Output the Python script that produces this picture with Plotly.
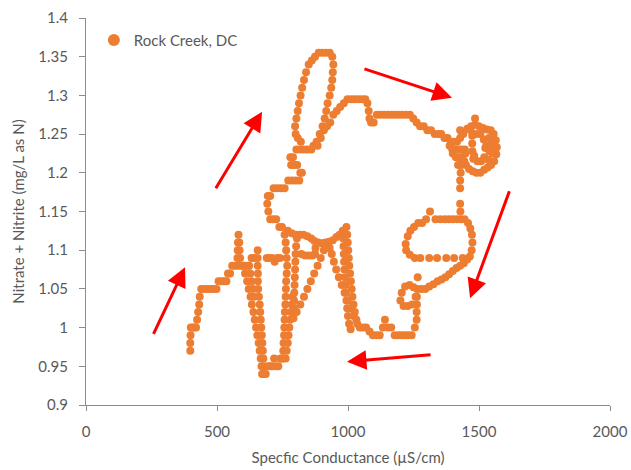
import plotly.graph_objects as go

# Rock Creek, DC storm event: nitrate + nitrite vs specific conductance (hysteresis loop)

# Rising limb: start at low conductance, spike, V trough, S-curve, left side of the tall loop
rise_cond = [398, 398, 399, 400, 406, 413, 420, 424, 428, 432, 434, 440, 452, 464, 476, 488, 498,
             506, 516, 526, 536, 542, 550, 558, 568, 578, 590, 600, 612, 622, 632, 642,
             578, 579, 580, 582, 585, 586, 588,
             603, 607, 615, 621, 628, 633, 639, 644, 649, 654, 659, 663, 667, 670, 672,
             622, 627, 632, 637, 641,
             655, 655, 655, 656, 656, 657, 660, 663, 665, 667, 669, 671, 673, 675, 677, 680,
             678, 686, 694, 702, 710, 718, 726, 734, 742, 748,
             752, 753, 754, 756, 757, 758, 759, 761, 762, 763, 764, 766, 768, 766, 764, 762, 758,
             762, 766, 770, 773, 776, 779, 782, 785, 788,
             690, 700, 710, 720, 730, 740,
             748, 738, 726, 714, 703, 696, 692, 694, 703, 716, 730, 744, 758, 772, 786, 800, 814,
             824, 818, 806, 794, 783, 780, 790, 803, 817, 831, 845, 860,
             820, 808, 800, 798, 803, 808, 813, 819, 825, 832, 840, 850, 862]
rise_no3 = [0.97, 0.98, 0.99, 1.00, 1.00, 1.00, 1.00, 1.01, 1.02, 1.03, 1.04, 1.05, 1.05, 1.05, 1.05, 1.05, 1.05,
            1.06, 1.06, 1.06, 1.06, 1.07, 1.07, 1.08, 1.08, 1.08, 1.08, 1.08, 1.08, 1.08, 1.09, 1.09,
            1.09, 1.10, 1.11, 1.12, 1.11, 1.10, 1.09,
            1.08, 1.07, 1.06, 1.05, 1.04, 1.03, 1.02, 1.01, 1.00, 0.99, 0.98, 0.97, 0.96, 0.95, 0.94,
            1.08, 1.07, 1.06, 1.05, 1.04,
            1.10, 1.09, 1.08, 1.07, 1.06, 1.05, 1.04, 1.03, 1.02, 1.01, 1.00, 0.99, 0.98, 0.97, 0.96, 0.95,
            0.94, 0.94, 0.95, 0.95, 0.95, 0.96, 0.95, 0.95, 0.96, 0.96,
            0.96, 0.97, 0.98, 0.99, 1.00, 1.01, 1.02, 1.03, 1.04, 1.05, 1.06, 1.07, 1.08, 1.09, 1.10, 1.11, 1.12,
            0.96, 0.97, 0.98, 0.99, 1.00, 1.01, 1.02, 1.03, 1.04,
            1.09, 1.09, 1.09, 1.085, 1.09, 1.09,
            1.13, 1.13, 1.14, 1.14, 1.14, 1.15, 1.16, 1.17, 1.17, 1.18, 1.18, 1.18, 1.18, 1.19, 1.19, 1.19, 1.19,
            1.20, 1.20, 1.21, 1.21, 1.21, 1.22, 1.22, 1.23, 1.23, 1.23, 1.23, 1.23,
            1.24, 1.245, 1.25, 1.26, 1.27, 1.28, 1.29, 1.30, 1.31, 1.32, 1.33, 1.34, 1.345]

# Peak: top of the tall loop, its right side, second hump, plateau and the knot near 1500 uS/cm
peak_cond = [874, 888, 902, 916, 930, 940,
             944, 942, 940, 936, 930, 922, 917, 911, 903, 892, 880, 868,
             884, 896, 908, 920, 932, 944, 957, 970, 984, 998, 1012, 1026, 1040, 1054, 1066, 1074, 1079, 1082, 1088, 1098,
             1110, 1124, 1138, 1152, 1166, 1180, 1194, 1208, 1222, 1236, 1249, 1262, 1275, 1289, 1303, 1317, 1331, 1345,
             1356, 1368, 1380, 1392, 1404, 1416, 1428, 1398, 1410, 1422, 1434, 1446, 1388, 1400, 1412, 1424, 1436, 1448,
             1420, 1432, 1444, 1440, 1428,
             1455, 1468, 1470, 1485, 1485, 1500, 1515, 1530, 1545, 1556, 1564, 1568, 1566, 1558, 1546, 1533, 1520,
             1505, 1490, 1476, 1462, 1450, 1440,
             1474, 1474, 1475, 1478,
             1490, 1505, 1518, 1524, 1520, 1508, 1494, 1482,
             1538, 1550, 1540, 1552, 1535, 1528, 1545]
peak_no3 = [1.35, 1.355, 1.355, 1.355, 1.355, 1.35,
            1.34, 1.33, 1.32, 1.31, 1.30, 1.29, 1.28, 1.27, 1.26, 1.25, 1.24, 1.235,
            1.235, 1.245, 1.255, 1.26, 1.265, 1.275, 1.28, 1.285, 1.29, 1.295, 1.295, 1.295, 1.295, 1.295, 1.295, 1.29, 1.28, 1.27, 1.265, 1.265,
            1.275, 1.275, 1.275, 1.275, 1.275, 1.275, 1.275, 1.275, 1.275, 1.275, 1.27, 1.265, 1.26, 1.26, 1.255, 1.255, 1.25, 1.25,
            1.25, 1.245, 1.245, 1.24, 1.24, 1.24, 1.245, 1.23, 1.23, 1.23, 1.23, 1.23, 1.235, 1.225, 1.22, 1.22, 1.22, 1.225,
            1.21, 1.21, 1.215, 1.25, 1.255,
            1.257, 1.255, 1.26, 1.262, 1.27, 1.26, 1.258, 1.256, 1.255, 1.25, 1.242, 1.233, 1.224, 1.215, 1.21, 1.207, 1.204,
            1.20, 1.20, 1.202, 1.205, 1.21, 1.215,
            1.248, 1.238, 1.228, 1.218,
            1.25, 1.25, 1.243, 1.232, 1.22, 1.215, 1.215, 1.222,
            1.245, 1.238, 1.228, 1.225, 1.217, 1.235, 1.232]

# Falling limb: descent on the right, small loop, diagonal, low-nitrate floor near 1000-1250 uS/cm
fall_cond = [1430, 1428, 1428, 1428, 1429,
             1430, 1445, 1458, 1467, 1473, 1475, 1472, 1465,
             1415, 1400, 1385, 1370, 1352, 1334, 1313, 1298, 1283, 1268, 1252, 1238, 1228, 1220, 1222, 1236, 1255,
             1276, 1310, 1340, 1375, 1405, 1438,
             1455, 1442, 1428, 1414, 1400, 1386, 1372, 1357, 1342, 1326, 1310, 1295,
             1280, 1266, 1264, 1263, 1263, 1262, 1262, 1255, 1243, 1230, 1217, 1204, 1191, 1178, 1165, 1152, 1141,
             1133, 1121, 1108, 1095, 1082, 1069, 1056, 1045,
             1205, 1200, 1212, 1228, 1245, 1258, 1250, 1235, 1218]
fall_no3 = [1.20, 1.19, 1.18, 1.16, 1.15,
            1.14, 1.14, 1.135, 1.128, 1.12, 1.11, 1.10, 1.092,
            1.14, 1.14, 1.14, 1.14, 1.14, 1.14, 1.15, 1.14, 1.135, 1.135, 1.13, 1.125, 1.118, 1.108, 1.10, 1.094, 1.09,
            1.09, 1.09, 1.09, 1.09, 1.09, 1.09,
            1.088, 1.083, 1.08, 1.077, 1.073, 1.069, 1.065, 1.062, 1.06, 1.056, 1.053, 1.05,
            1.05, 1.065, 1.05, 1.04, 1.03, 1.02, 1.01, 1.00, 0.99, 0.99, 0.99, 0.99, 0.99, 0.99, 1.00, 1.00, 1.01,
            1.00, 0.99, 0.99, 0.99, 0.995, 1.00, 1.00, 1.00,
            1.045, 1.035, 1.028, 1.028, 1.03, 1.04, 1.052, 1.055, 1.053]

# Middle: the "A" excursion, the P-shaped lobe and the steep column near 1000 uS/cm
mid_cond = [1035, 1022, 1010, 998, 987, 976, 965, 955, 946, 938, 930, 920,
            908, 896, 884, 871, 858, 845, 832, 818, 804, 792,
            793, 794, 795, 796, 797, 798, 799, 800, 802, 805,
            770, 785, 800, 815, 830, 845, 860, 872,
            876, 874, 864, 850, 836, 822,
            886, 900, 914, 928, 942, 956, 968,
            980, 982, 983, 984, 985, 986, 988, 990, 992, 994, 997, 1000, 1004, 1010,
            994, 997, 999, 1001, 1003, 1005, 1008, 1011, 1014, 1017, 1021, 1026, 1032]
mid_no3 = [1.005, 1.015, 1.025, 1.035, 1.045, 1.055, 1.065, 1.075, 1.085, 1.095, 1.103, 1.107,
           1.10, 1.09, 1.08, 1.07, 1.06, 1.05, 1.04, 1.03, 1.02, 1.012,
           1.025, 1.035, 1.045, 1.055, 1.065, 1.075, 1.085, 1.095, 1.105, 1.115,
           1.125, 1.122, 1.12, 1.12, 1.12, 1.118, 1.115, 1.112,
           1.103, 1.095, 1.093, 1.093, 1.093, 1.095,
           1.11, 1.109, 1.11, 1.111, 1.113, 1.117, 1.12,
           1.125, 1.115, 1.105, 1.095, 1.085, 1.075, 1.065, 1.055, 1.045, 1.035, 1.025, 1.015, 1.005, 0.998,
           1.13, 1.12, 1.11, 1.10, 1.09, 1.08, 1.07, 1.06, 1.05, 1.04, 1.03, 1.02, 1.01]

# Direction arrows (tail -> head), in data units
arrow_tail_x = [255, 492, 1057, 1618, 1321]
arrow_tail_y = [0.99, 1.178, 1.335, 1.178, 0.965]
arrow_head_x = [378, 672, 1397, 1466, 996]
arrow_head_y = [1.078, 1.279, 1.297, 1.038, 0.956]

x_ticks = [0, 500, 1000, 1500, 2000]
y_ticks = [0.9, 0.95, 1.0, 1.05, 1.1, 1.15, 1.2, 1.25, 1.3, 1.35, 1.4]
y_tick_labels = ["0.9", "0.95", "1", "1.05", "1.1", "1.15", "1.2", "1.25", "1.3", "1.35", "1.4"]

ORANGE = "#ED7D31"
TEXT = "#595959"
AXIS = "#8c8c8c"
FONT = "Lato, Open Sans, sans-serif"

conductance = rise_cond + peak_cond + fall_cond + mid_cond
nitrate = rise_no3 + peak_no3 + fall_no3 + mid_no3

fig = go.Figure()
fig.add_trace(go.Scatter(
    x=conductance, y=nitrate, mode="markers", name="Rock Creek, DC",
    marker=dict(color=ORANGE, size=8, line=dict(width=0)),
))

for tx, ty, hx, hy in zip(arrow_tail_x, arrow_tail_y, arrow_head_x, arrow_head_y):
    fig.add_annotation(
        x=hx, y=hy, ax=tx, ay=ty, xref="x", yref="y", axref="x", ayref="y",
        text="", showarrow=True, arrowhead=2, arrowsize=1.3, arrowwidth=3,
        arrowcolor="#FF0000", standoff=0, startstandoff=0,
    )

fig.update_layout(
    width=631, height=470,
    margin=dict(l=86, r=21, t=18, b=65, autoexpand=False),
    paper_bgcolor="white", plot_bgcolor="white",
    font=dict(family=FONT, size=15, color=TEXT),
    showlegend=True,
    legend=dict(x=0.015, y=0.985, xanchor="left", yanchor="top",
                bgcolor="rgba(0,0,0,0)", font=dict(size=15, color=TEXT),
                itemsizing="constant"),
)
fig.update_xaxes(
    range=[0, 2000], tickvals=x_ticks, ticks="outside", ticklen=5, tickcolor=AXIS,
    showline=True, linecolor=AXIS, linewidth=1, showgrid=False, zeroline=False,
    automargin=False,
    title=dict(text="Specfic Conductance (µS/cm)", font=dict(size=15, color=TEXT), standoff=13),
    tickfont=dict(size=15, color=TEXT), ticklabelstandoff=8,
)
fig.update_yaxes(
    range=[0.9, 1.4], tickvals=y_ticks, ticktext=y_tick_labels, ticks="outside", ticklen=6,
    tickcolor=AXIS, showline=True, linecolor=AXIS, linewidth=1, showgrid=False, zeroline=False,
    automargin=False,
    title=dict(text="Nitrate + Nitrite (mg/L as N)", font=dict(size=15, color=TEXT), standoff=10),
    tickfont=dict(size=15, color=TEXT), ticklabelstandoff=8,
)

fig.write_html("out.html")
